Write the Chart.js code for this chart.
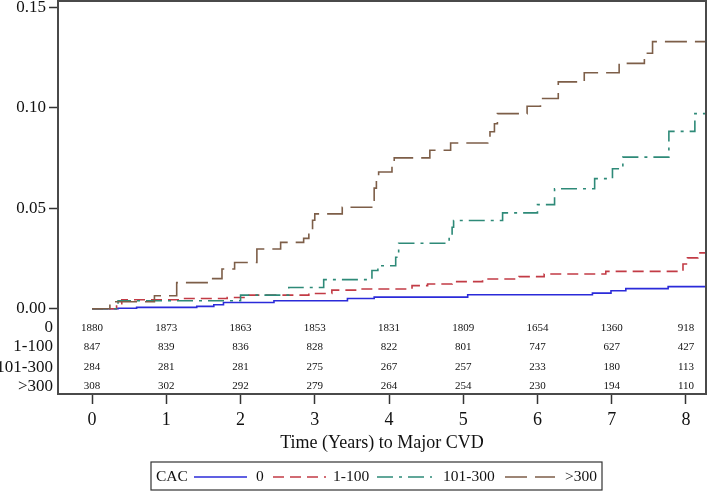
<!DOCTYPE html>
<html><head><meta charset="utf-8">
<script src="https://cdn.jsdelivr.net/npm/chart.js@4/dist/chart.umd.min.js"></script>
<style>html,body{margin:0;padding:0;background:#fff;}</style>
</head><body>
<canvas id="c" width="709" height="492"></canvas>
<script>
// ---- data ----
const seriesNames = ['0', '1-100', '101-300', '>300'];
const legendTitle = 'CAC';
const xTitle = 'Time (Years) to Major CVD';

const time0  = [0, 0.35, 0.6, 1.41, 1.64, 1.77, 2.45, 3.44, 3.80, 5.06, 6.74, 6.99, 7.19, 7.76, 8.27];
const cum0   = [0, 0.0003, 0.0007, 0.0012, 0.002, 0.0031, 0.004, 0.0051, 0.0058, 0.007, 0.0078, 0.009, 0.010, 0.011, 0.011];

const time1  = [0, 0.33, 0.40, 1.19, 1.82, 2.09, 2.92, 3.23, 3.60, 4.31, 4.52, 4.85, 5.26, 5.75, 6.09, 6.92, 7.96, 8.02, 8.16, 8.27];
const cum1   = [0, 0.0025, 0.0045, 0.0051, 0.0056, 0.0068, 0.0076, 0.0093, 0.0098, 0.0115, 0.0123, 0.0135, 0.0148, 0.016, 0.0173, 0.0186, 0.0223, 0.0253, 0.0278, 0.0278];

const time2  = [0, 0.35, 2.0, 2.65, 3.12, 3.77, 3.85, 4.09, 4.13, 4.81, 4.85, 4.87, 5.53, 6.0, 6.23, 6.77, 7.01, 7.15, 7.77, 8.12, 8.27];
const cum2   = [0, 0.004, 0.0068, 0.0106, 0.0145, 0.019, 0.0214, 0.0256, 0.0326, 0.0364, 0.0405, 0.0439, 0.0477, 0.0518, 0.0597, 0.0647, 0.0696, 0.0754, 0.0882, 0.097, 0.097];

const time3  = [0, 0.24, 0.84, 1.14, 1.57, 1.75, 1.92, 2.22, 2.54, 2.85, 2.92, 2.97, 3.00, 3.37, 3.78, 3.80, 3.83, 3.86, 4.04, 4.07, 4.55, 4.83, 5.33, 5.36, 5.42, 5.46, 5.86, 6.04, 6.28, 6.63, 7.10, 7.44, 7.55, 8.27];
const cum3   = [0, 0.0035, 0.0065, 0.013, 0.015, 0.0198, 0.023, 0.0297, 0.033, 0.035, 0.038, 0.044, 0.0472, 0.0505, 0.054, 0.060, 0.066, 0.068, 0.0713, 0.075, 0.0788, 0.0824, 0.085, 0.088, 0.092, 0.097, 0.1007, 0.1045, 0.1128, 0.1173, 0.122, 0.127, 0.1328, 0.1328];

const xTicks = [0, 1, 2, 3, 4, 5, 6, 7, 8];
const yTicks = [0, 0.05, 0.10, 0.15];

const atRisk0   = [1880, 1873, 1863, 1853, 1831, 1809, 1654, 1360, 918];
const atRisk1   = [847, 839, 836, 828, 822, 801, 747, 627, 427];
const atRisk2   = [284, 281, 281, 275, 267, 257, 233, 180, 113];
const atRisk3   = [308, 302, 292, 279, 264, 254, 230, 194, 110];

// ---- styles ----
const colors = ['#2b2bd9', '#c23b45', '#2e8a78', '#7d5e48'];
const dashes = [[], [11, 6], [16, 6, 3, 6], [22, 8]];
const FONT = "'Liberation Serif', 'Times New Roman', serif";

const allTimes = [time0, time1, time2, time3];
const allCums = [cum0, cum1, cum2, cum3];
const riskRows = [atRisk0, atRisk1, atRisk2, atRisk3];
const riskRowVals = [-0.0095, -0.019, -0.029, -0.0384];

const datasets = seriesNames.map((n, i) => ({
  label: n,
  data: allTimes[i].map((t, k) => ({x: t, y: allCums[i][k]})),
  borderColor: colors[i],
  borderWidth: 1.6,
  borderDash: dashes[i],
  stepped: 'before',
  pointRadius: 0,
  fill: false,
  clip: false
})).reverse();

const extras = {
  id: 'extras',
  afterDraw(chart) {
    const ctx = chart.ctx, a = chart.chartArea;
    const xs = chart.scales.x, ys = chart.scales.y;
    ctx.save();
    // frame
    ctx.strokeStyle = '#4a4a4a'; ctx.lineWidth = 2; ctx.setLineDash([]);
    ctx.strokeRect(a.left, a.top, a.right - a.left, a.bottom - a.top);
    // risk table
    ctx.fillStyle = '#111';
    ctx.textBaseline = 'middle';
    riskRows.forEach((row, r) => {
      const y = ys.getPixelForValue(riskRowVals[r]);
      ctx.font = '17px ' + FONT; ctx.textAlign = 'right';
      ctx.fillText(seriesNames[r], a.left - 5, y);
      ctx.font = '11px ' + FONT; ctx.textAlign = 'center';
      row.forEach((v, k) => ctx.fillText(String(v), xs.getPixelForValue(xTicks[k]), y));
    });
    // legend
    const L = {x: 151, y: 462, w: 451, h: 28};
    ctx.strokeStyle = '#333'; ctx.lineWidth = 1.2;
    ctx.strokeRect(L.x, L.y, L.w, L.h);
    const cy = L.y + L.h / 2 + 1;
    ctx.font = '15.5px ' + FONT; ctx.textAlign = 'left'; ctx.fillStyle = '#111';
    ctx.fillText(legendTitle, 156, cy);
    const items = [[194, 247, 256], [273, 326, 333], [377, 432, 443], [505, 555, 565]];
    items.forEach((it, i) => {
      ctx.strokeStyle = colors[i]; ctx.lineWidth = 1.6; ctx.setLineDash(dashes[i]);
      ctx.beginPath(); ctx.moveTo(it[0], cy); ctx.lineTo(it[1], cy); ctx.stroke();
      ctx.setLineDash([]);
      ctx.fillText(seriesNames[i], it[2], cy);
    });
    ctx.restore();
  }
};

new Chart(document.getElementById('c'), {
  type: 'line',
  data: {datasets},
  options: {
    responsive: false,
    animation: false,
    devicePixelRatio: 1,
    layout: {padding: {top: 1, right: 3, left: 0, bottom: 0}},
    plugins: {legend: {display: false}, tooltip: {enabled: false}},
    scales: {
      x: {
        type: 'linear', min: -0.459, max: 8.27,
        afterBuildTicks: s => { s.ticks = xTicks.map(v => ({value: v})); },
        afterFit: s => { s.height = 98; s.paddingLeft = 0; s.paddingRight = 0; },
        border: {display: false},
        grid: {drawOnChartArea: false, drawTicks: true, tickLength: 10, tickColor: '#333', tickWidth: 1.5},
        ticks: {font: {family: FONT, size: 18}, color: '#111', padding: 5, maxRotation: 0},
        title: {display: true, text: xTitle, font: {family: FONT, size: 18}, color: '#111', padding: {top: 4, bottom: 38}}
      },
      y: {
        type: 'linear', min: -0.04236, max: 0.153,
        afterBuildTicks: s => { s.ticks = yTicks.map(v => ({value: v})); },
        afterFit: s => { s.width = 58; s.paddingTop = 0; s.paddingBottom = 0; },
        border: {display: false},
        grid: {drawOnChartArea: false, drawTicks: true, tickLength: 9, tickColor: '#333', tickWidth: 1.5},
        ticks: {font: {family: FONT, size: 17}, color: '#111', padding: 3, callback: v => Number(v).toFixed(2)}
      }
    }
  },
  plugins: [extras]
});
</script>
</body></html>
